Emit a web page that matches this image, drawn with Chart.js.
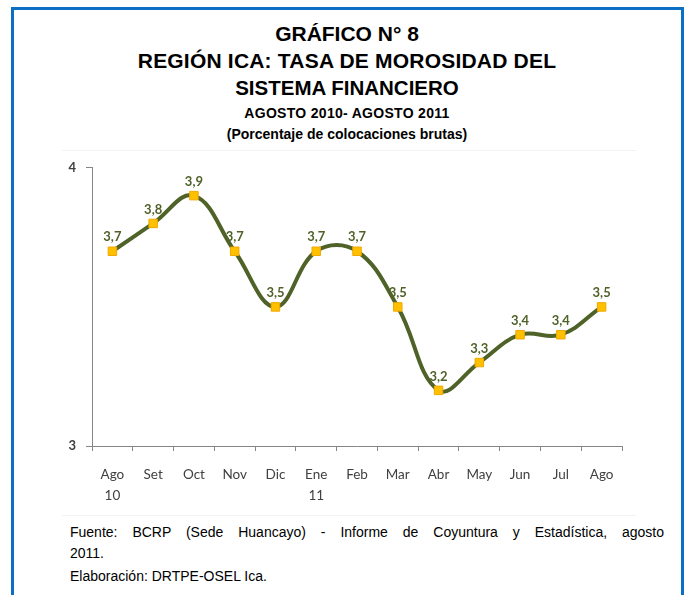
<!DOCTYPE html>
<html>
<head>
<meta charset="utf-8">
<script src="https://cdn.jsdelivr.net/npm/chart.js@4.4.1/dist/chart.umd.min.js"></script>
<style>
  html, body { margin: 0; padding: 0; background: #fff; }
  body { width: 685px; height: 595px; position: relative; overflow: hidden; font-family: "Liberation Sans", Arial, sans-serif; }
  .frame { position: absolute; left: 11px; top: 7px; width: 667px; height: 600px; border: 3px solid #0b70c4; border-bottom: none; }
  .title { position: absolute; left: 0; width: 694px; text-align: center; font-weight: bold; color: #000; white-space: nowrap; }
  .t1 { top: 22px; font-size: 21px; }
  .t2 { top: 49px; font-size: 21px; letter-spacing: 0.2px; }
  .t3 { top: 76px; font-size: 20.5px; }
  .t4 { top: 105px; font-size: 14px; letter-spacing: 0.3px; }
  .t5 { top: 126px; font-size: 14px; }
  .sep { position: absolute; left: 62px; width: 574px; height: 1px; background: #f2f2f2; }
  #wrap { position: absolute; left: 40px; top: 150px; width: 600px; height: 360px; }
  .foot { position: absolute; left: 70px; width: 594px; font-size: 14px; color: #000; line-height: 21px; }
  .just { text-align: justify; text-align-last: justify; }
</style>
</head>
<body>
<div class="frame"></div>
<div class="title t1">GRÁFICO N° 8</div>
<div class="title t2">REGIÓN ICA: TASA DE MOROSIDAD DEL</div>
<div class="title t3">SISTEMA FINANCIERO</div>
<div class="title t4">AGOSTO 2010- AGOSTO 2011</div>
<div class="title t5">(Porcentaje de colocaciones brutas)</div>
<div class="sep" style="top:150px"></div>
<div id="wrap"><canvas id="chart"></canvas></div>
<div class="sep" style="top:515px"></div>
<div class="foot" style="top:522px">
  <div class="just">Fuente: BCRP (Sede Huancayo) - Informe de Coyuntura y Estadística, agosto</div>
  <div>2011.</div>
  <div style="margin-top:2px">Elaboración: DRTPE-OSEL Ica.</div>
</div>
<script>
// meses agosto 2010 - agosto 2011
const months = [["Ago", "10"], "Set", "Oct", "Nov", "Dic", ["Ene", "11"], "Feb", "Mar", "Abr", "May", "Jun", "Jul", "Ago"];
const morosidad = [3.7, 3.8, 3.9, 3.7, 3.5, 3.7, 3.7, 3.5, 3.2, 3.3, 3.4, 3.4, 3.5];
const yTicks = [3, 4];

const axisFont = "Lato, 'Open Sans', sans-serif";

// etiquetas de datos encima de cada punto
const valueLabels = {
    id: "valueLabels",
    afterDatasetsDraw(chart) {
        const ctx = chart.ctx;
        const meta = chart.getDatasetMeta(0);
        ctx.save();
        ctx.font = "bold 13px " + axisFont;
        ctx.fillStyle = "#4f6228";
        ctx.textAlign = "center";
        ctx.textBaseline = "middle";
        meta.data.forEach(function(pt, i) {
            const txt = morosidad[i].toFixed(1).replace(".", ",");
            ctx.fillText(txt, pt.x, pt.y - 14);
        });
        ctx.restore();
    }
};

new Chart(document.getElementById("chart"), {
    type: "line",
    data: {
        labels: months,
        datasets: [{
            data: morosidad,
            borderColor: "#4f6228",
            borderWidth: 4,
            tension: 0.4,
            fill: false,
            pointStyle: "rect",
            pointRadius: 6,
            pointHoverRadius: 6,
            pointBackgroundColor: "#ffc000",
            pointBorderColor: "#f0a800",
            pointBorderWidth: 1
        }]
    },
    options: {
        responsive: true,
        maintainAspectRatio: false,
        animation: false,
        layout: { padding: { top: 15, right: 18, left: 0, bottom: 0 } },
        plugins: { legend: { display: false }, tooltip: { enabled: false } },
        scales: {
            x: {
                offset: true,
                grid: { display: true, drawOnChartArea: false, offset: true, tickLength: 5, color: "#868686" },
                border: { color: "#868686" },
                ticks: { color: "#404040", font: { family: axisFont, size: 13.5, lineHeight: 1.5 }, padding: 14, maxRotation: 0, autoSkip: false },
                afterFit: function(s) { s.height = 64; }
            },
            y: {
                min: 3,
                max: 4,
                afterBuildTicks: function(s) { s.ticks = yTicks.map(function(v) { return { value: v }; }); },
                grid: { display: true, drawOnChartArea: false, tickLength: 6, color: "#868686" },
                border: { color: "#868686" },
                ticks: { color: "#404040", font: { family: axisFont, size: 13, weight: "bold" }, padding: 10 },
                afterFit: function(s) { s.width = 52; }
            }
        }
    },
    plugins: [valueLabels]
});
</script>
</body>
</html>
